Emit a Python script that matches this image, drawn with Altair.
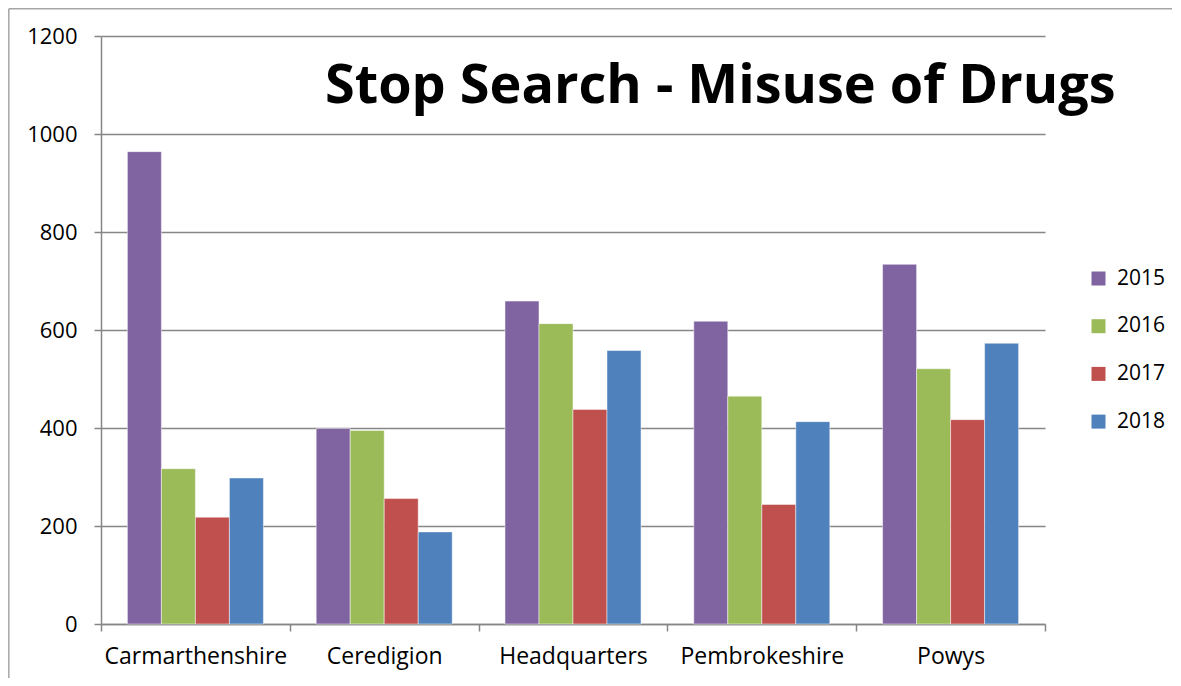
import altair as alt
import pandas as pd

areas = ["Carmarthenshire", "Ceredigion", "Headquarters", "Pembrokeshire", "Powys"]
years = ["2015", "2016", "2017", "2018"]
v2015 = [964, 399, 659, 618, 734]
v2016 = [317, 395, 613, 465, 521]
v2017 = [218, 256, 438, 244, 417]
v2018 = [298, 188, 558, 413, 573]
colors = ["#8064A2", "#9BBB59", "#C0504D", "#4F81BD"]
title_text = "Stop Search - Misuse of Drugs"

rows = []
for yr, vals in zip(years, [v2015, v2016, v2017, v2018]):
    for a, v in zip(areas, vals):
        rows.append({"Area": a, "Year": yr, "Count": v})
df = pd.DataFrame(rows)

FONT = "Open Sans"
AX = "#868686"

bars = alt.Chart(df).mark_bar(stroke="#ffffff", strokeWidth=0.8, strokeOpacity=0.6).encode(
    x=alt.X("Area:N", sort=areas, title=None,
            scale=alt.Scale(paddingInner=0, paddingOuter=0),
            axis=alt.Axis(labelAngle=0, tickBand="extent", labelFont=FONT, labelFontSize=23,
                          labelColor="#000000", labelPadding=14, labelLimit=0, tickSize=7,
                          tickColor=AX, tickWidth=1.5, domainColor=AX, domainWidth=1.5,
                          grid=False)),
    xOffset=alt.XOffset("Year:N", sort=years,
                        scale=alt.Scale(paddingInner=0, paddingOuter=0.776)),
    y=alt.Y("Count:Q", title=None,
            scale=alt.Scale(domain=[0, 1200], nice=False),
            axis=alt.Axis(values=[0, 200, 400, 600, 800, 1000, 1200], format="d",
                          labelFont=FONT, labelFontSize=22, labelColor="#000000",
                          labelPadding=17, tickSize=7, tickColor=AX, tickWidth=1.5,
                          domainColor=AX, domainWidth=1.5,
                          grid=True, gridColor=AX, gridWidth=1.5)),
    color=alt.Color("Year:N", sort=years, scale=alt.Scale(domain=years, range=colors),
                    legend=alt.Legend(title=None, orient="none", legendX=987, legendY=232,
                                      symbolType="square", symbolSize=196, symbolStrokeWidth=0,
                                      labelFont=FONT, labelFontSize=21, labelColor="#000000",
                                      labelOffset=8, rowPadding=25.7)),
)

left_df = pd.DataFrame({"edge": ["left"]})
top_df = pd.DataFrame({"edge": ["top"]})
title_df = pd.DataFrame({"label": [title_text]})

frame_left = alt.Chart(left_df).mark_rule(color="#a6a6a6", strokeWidth=1.5).encode(
    x=alt.value(-92.2), y=alt.value(-27.2), y2=alt.value(650))
frame_top = alt.Chart(top_df).mark_rule(color="#a6a6a6", strokeWidth=1.5).encode(
    y=alt.value(-27.2), x=alt.value(-92.2), x2=alt.value(1071))

title = alt.Chart(title_df).mark_text(
    font=FONT, fontSize=54, fontWeight="bold", color="#000000",
    align="left", baseline="alphabetic"
).encode(text="label:N", x=alt.value(224), y=alt.value(67))

chart = alt.layer(bars, title, frame_left, frame_top).properties(
    width=944,
    height=588,
    padding={"left": 93, "top": 28, "right": 128, "bottom": 54},
    autosize=alt.AutoSizeParams(type="none"),
).configure_view(stroke=None)

chart.save("out.html", embed_options={"renderer": "svg", "actions": False})
